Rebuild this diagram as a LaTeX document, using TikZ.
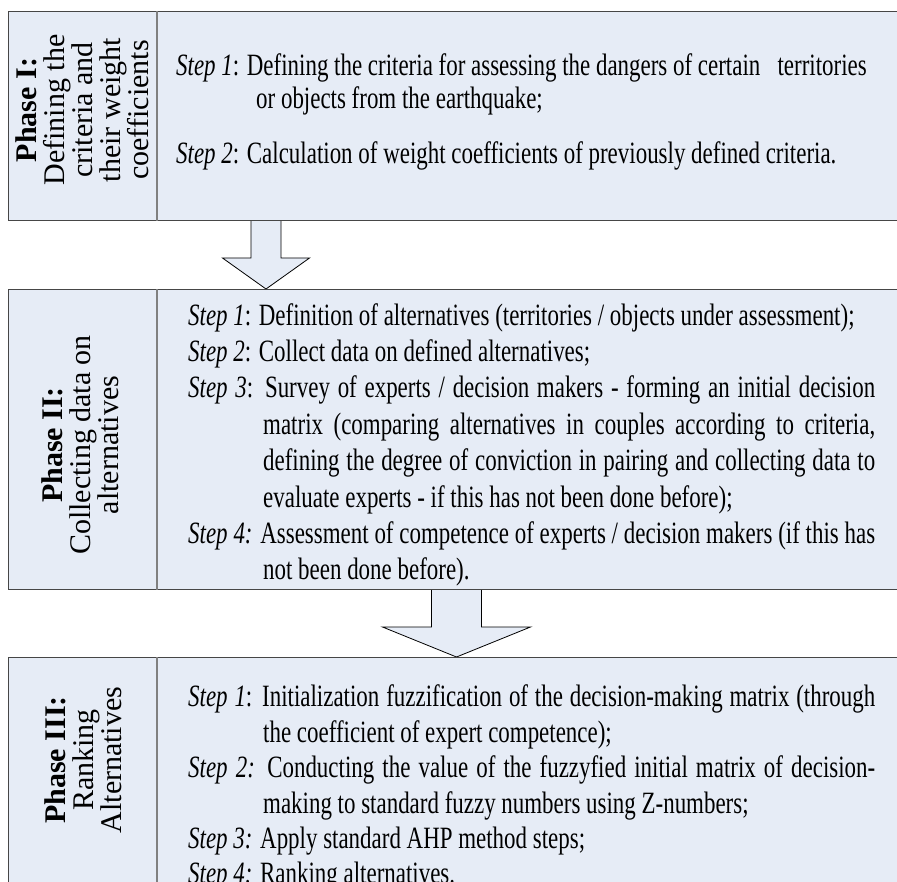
\documentclass[tikz,border=0pt]{standalone}
\usepackage{fontspec}
\setmainfont{Liberation Serif}
\newfontfamily\bodyfont[FakeStretch=0.74]{Liberation Serif}
\usetikzlibrary{calc}
\definecolor{boxfill}{RGB}{230, 236, 246}
\definecolor{edge}{RGB}{70, 70, 70}
\newcommand*{\hang}{\noindent\hangindent=75pt\hangafter=1\relax}
\newcommand*{\brk}{\hfil\break}

\begin{document}
\begin{tikzpicture}[
   x=1pt, y=-1pt,
   phasebox/.style={rectangle, draw=edge, fill=boxfill, line width=1.3,
                    anchor=north west, minimum width=897pt, inner sep=0},
   divider/.style={draw=gray, line width=1.3},
   phaselabel/.style={rotate=90, align=center, inner sep=0,
                      font=\fontsize{30}{28}\selectfont},
   steptext/.style={anchor=north west, inner sep=0, text width=687pt, align=justify,
                    font=\bodyfont\fontsize{31}{36.4}\selectfont},
   blockarrow/.style={draw=black, fill=boxfill, line width=0.8, line join=miter}
  ]

  \useasboundingbox (0,0) rectangle (897,882);

  % Arrow ends
  \coordinate (a1) at (266,220);
  \coordinate (b1) at (266,289);
  \coordinate (a2) at (456.5,589);
  \coordinate (b2) at (456.5,657);

  \foreach \A/\B/\sw/\hw/\hl in {a1/b1/15/43.5/31, a2/b2/25/74/30} {
    \draw[blockarrow] ($(\A)+(-\sw,0)$) -- ($(\B)+(-\sw,-\hl)$) -- ($(\B)+(-\hw,-\hl)$)
      -- (\B) -- ($(\B)+(\hw,-\hl)$) -- ($(\B)+(\sw,-\hl)$) -- ($(\A)+(\sw,0)$);
  }

  % Phase boxes
  \node[phasebox, minimum height=209pt] (box1) at (8,11) {};
  \node[phasebox, minimum height=300pt] (box2) at (8,289) {};
  \node[phasebox, minimum height=240pt] (box3) at (8,657) {};

  \foreach \b in {box1, box2, box3} {
    \draw[divider] ($(\b.north west)+(149,0)$) -- ($(\b.south west)+(149,0)$);
  }

  % Phase labels
  \node[phaselabel] (lab1) at (82,110) {\textbf{Phase I:}\\Defining the\\criteria and\\their weight\\coefficients};
  \node[phaselabel] (lab2) at (80,445) {\textbf{Phase II:}\\Collecting data on\\alternatives};
  \node[phaselabel] (lab3) at (83,760) {\textbf{Phase III:}\\Ranking\\Alternatives};

  % Steps
  \node[steptext, text width=710pt, font=\bodyfont\fontsize{31}{33}\selectfont] (steps1) at (176,52) {%
    \noindent\hangindent=80pt\hangafter=1\strut\textit{Step 1}: Defining the criteria for assessing the dangers of certain\ \ \ territories\brk
    or objects from the earthquake;\par\vskip 22pt
    \noindent\textit{Step 2}: Calculation of weight coefficients of previously defined criteria.\par};

  \node[steptext] (steps2) at (188,299.5) {%
    \hang\strut\textit{Step 1}: Definition of alternatives (territories / objects under assessment);\par
    \hang\textit{Step 2}: Collect data on defined alternatives;\par
    \hang\textit{Step 3}: Survey of experts / decision makers - forming an initial decision\linebreak
    matrix (comparing alternatives in couples according to criteria,\linebreak
    defining the degree of conviction in pairing and collecting data to\linebreak
    evaluate experts - if this has not been done before);\par
    \hang\textit{Step 4:} Assessment of competence of experts / decision makers (if this has\linebreak
    not been done before).\par};

  \node[steptext, font=\bodyfont\fontsize{31}{35.4}\selectfont] (steps3) at (188,682) {%
    \hang\strut\textit{Step 1}: Initialization fuzzification of the decision-making matrix (through\linebreak
    the coefficient of expert competence);\par
    \hang\textit{Step 2:} Conducting the value of the fuzzyfied initial matrix of decision-\linebreak
    making to standard fuzzy numbers using Z-numbers;\par
    \hang\textit{Step 3:} Apply standard AHP method steps;\par
    \hang\textit{Step 4:} Ranking alternatives.\par};

\end{tikzpicture}
\end{document}
